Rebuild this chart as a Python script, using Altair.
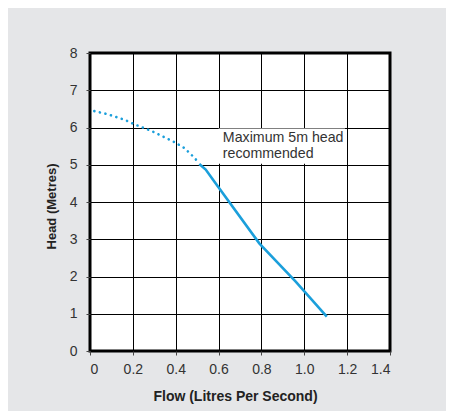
import altair as alt
import pandas as pd

# Pump curve
dotted_flow = [0.02, 0.08, 0.16, 0.21, 0.29, 0.34, 0.39, 0.44, 0.46, 0.48, 0.51]
dotted_head = [6.44, 6.36, 6.21, 6.08, 5.90, 5.76, 5.62, 5.45, 5.34, 5.23, 5.04]
solid_flow = [0.51, 0.54, 0.58, 0.79, 0.96, 1.105]
solid_head = [5.02, 4.87, 4.55, 2.89, 1.86, 0.92]

x_ticks = [0, 0.2, 0.4, 0.6, 0.8, 1.0, 1.2, 1.4]
y_ticks = [0, 1, 2, 3, 4, 5, 6, 7, 8]

note_text = ["Maximum 5m head\nrecommended"]
note_flow = [0.62]
note_head = [5.62]
box_flow = [0.6]
box_flow2 = [1.19]
box_head = [5.03]
box_head2 = [5.97]

BLUE = "#1b9fdb"
FONT = "Liberation Sans"

dotted = pd.DataFrame({"flow": dotted_flow, "head": dotted_head})
solid = pd.DataFrame({"flow": solid_flow, "head": solid_head})
note = pd.DataFrame({"flow": note_flow, "head": note_head, "label": note_text})
box = pd.DataFrame({"flow": box_flow, "flow2": box_flow2, "head": box_head, "head2": box_head2})

X = alt.X(
    "flow:Q",
    scale=alt.Scale(domain=[0, 1.4], nice=False, zero=True),
    axis=alt.Axis(
        values=x_ticks,
        title="Flow (Litres Per Second)",
        titleFontSize=14,
        titleX=145,
        labelExpr="datum.value == 0 ? '0' : format(datum.value, '.1f')",
        labelPadding=7,
        titlePadding=13,
    ),
)
Y = alt.Y(
    "head:Q",
    scale=alt.Scale(domain=[0, 8], nice=False),
    axis=alt.Axis(
        values=y_ticks,
        title="Head (Metres)",
        titleFontSize=13,
        titleY=153,
        labelPadding=9,
        titlePadding=11,
    ),
)

box_layer = alt.Chart(box).mark_rect(color="white", opacity=1).encode(
    x=X, x2="flow2:Q", y=Y, y2="head2:Q"
)
dotted_layer = alt.Chart(dotted).mark_line(
    color=BLUE, strokeWidth=2.6, strokeDash=[0.1, 5.6], strokeCap="round"
).encode(x=X, y=Y, order=alt.Order("flow:Q"))
solid_layer = alt.Chart(solid).mark_line(
    color=BLUE, strokeWidth=2.6, strokeCap="butt"
).encode(x=X, y=Y, order=alt.Order("flow:Q"))
text_layer = alt.Chart(note).mark_text(
    align="left", baseline="alphabetic", font=FONT, fontSize=14.2,
    color="#333333", lineBreak="\n", lineHeight=16.5
).encode(x=X, y=Y, text="label:N")

chart = (
    alt.layer(box_layer, dotted_layer, solid_layer, text_layer)
    .properties(
        width=300,
        height=298,
        autosize="none",
        padding={"left": 82, "top": 45, "right": 56, "bottom": 60},
        background="#e5e6e8",
    )
    .configure_view(fill="white", stroke="black", strokeWidth=3)
    .configure_axis(
        grid=True,
        gridColor="black",
        gridWidth=1,
        gridOpacity=1,
        domain=False,
        tickColor="#444444",
        tickSize=4,
        tickWidth=1,
        labelFont=FONT,
        labelFontSize=14,
        labelColor="#333333",
        titleFont=FONT,
        titleFontWeight="bold",
        titleColor="#222222",
    )
)

chart.save("out.html", embed_options={"renderer": "svg", "actions": False})
